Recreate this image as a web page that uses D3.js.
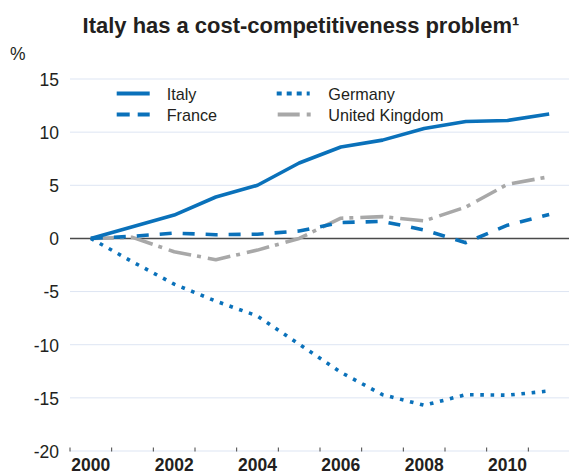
<!DOCTYPE html>
<html>
<head>
<meta charset="utf-8">
<script src="https://cdn.jsdelivr.net/npm/d3@7"></script>
<style>
  html, body { margin: 0; padding: 0; background: #fff; }
  svg { display: block; font-family: "Liberation Sans", Arial, Helvetica, sans-serif; }
</style>
</head>
<body>
<svg id="chart" width="569" height="473"></svg>
<script>
// Annual data, 2000 = 0, per cent
const years = [2000, 2001, 2002, 2003, 2004, 2005, 2006, 2007, 2008, 2009, 2010, 2011];
const italy   = [0, 1.1, 2.2, 3.9, 5.0, 7.1, 8.6, 9.25, 10.35, 11.0, 11.1, 11.7];
const france  = [0, 0.2, 0.5, 0.35, 0.4, 0.7, 1.5, 1.6, 0.8, -0.4, 1.25, 2.25];
const germany = [0, -2.2, -4.3, -5.9, -7.3, -9.95, -12.6, -14.7, -15.7, -14.7, -14.75, -14.35];
const uk      = [0, 0.1, -1.25, -2.0, -1.1, 0, 1.9, 2.05, 1.65, 2.95, 5.1, 5.8];

const seriesNames = ["Italy", "France", "Germany", "United Kingdom"];
const yTicks = [15, 10, 5, 0, -5, -10, -15, -20];
const xLabelYears = [2000, 2002, 2004, 2006, 2008, 2010];
const titleText = "Italy has a cost-competitiveness problem\u00B9";
const unitText = "%";

const BLUE = "#0a71ba";
const GREY = "#a8a8a8";
const INK = "#231f20";

const svg = d3.select("#chart");

const x = d3.scaleLinear().domain([2000, 2012]).range([70, 570]);
const y = d3.scaleLinear().domain([-20, 15]).range([451, 79]);

// Title, sized to span its measured width
const title = svg.append("text")
  .attr("x", 301).attr("y", 33)
  .attr("text-anchor", "middle")
  .attr("font-weight", "bold")
  .attr("font-size", 20)
  .attr("fill", INK)
  .text(titleText);
const tw = title.node().getComputedTextLength();
title.attr("font-size", 20 * 437 / tw);

svg.append("text")
  .attr("x", 10).attr("y", 60)
  .attr("font-size", 17.5)
  .attr("fill", INK)
  .text(unitText);

// Horizontal grid
const grid = svg.append("g");
grid.selectAll("line")
  .data(yTicks.filter(d => d !== 0))
  .join("line")
  .attr("x1", 70).attr("x2", 569)
  .attr("y1", d => y(d)).attr("y2", d => y(d))
  .attr("stroke", "#dde5f3")
  .attr("stroke-width", 1);

// Y axis labels (plain hyphen for negatives)
const yAxis = d3.axisLeft(y).tickValues(yTicks).tickSize(0).tickPadding(11)
  .tickFormat(d => String(d));
svg.append("g")
  .attr("transform", "translate(70,0)")
  .call(yAxis)
  .call(g => g.select(".domain").remove())
  .call(g => g.selectAll("text")
    .attr("font-size", 17.5)
    .attr("font-family", "Liberation Sans, Arial, sans-serif")
    .attr("fill", INK)
    .attr("dy", "0.36em"));

// X axis: year boundary ticks, labels at mid-year
const yearBounds = d3.range(2000, 2013);
svg.append("g").selectAll("line")
  .data(yearBounds)
  .join("line")
  .attr("x1", d => x(d)).attr("x2", d => x(d))
  .attr("y1", 447.5).attr("y2", 451.5)
  .attr("stroke", "#444")
  .attr("stroke-width", 1);

svg.append("g").selectAll("text")
  .data(xLabelYears)
  .join("text")
  .attr("x", d => x(d + 0.5))
  .attr("y", 470.5)
  .attr("text-anchor", "middle")
  .attr("font-size", 17.5)
  .attr("font-weight", "bold")
  .attr("fill", INK)
  .text(d => d);

// Zero line
svg.append("line")
  .attr("x1", 70).attr("x2", 569)
  .attr("y1", y(0)).attr("y2", y(0))
  .attr("stroke", "#4a4a4a")
  .attr("stroke-width", 1.6);

const line = d3.line()
  .x((d, i) => x(years[i] + 0.5))
  .y(d => y(d));

const styles = {
  "Italy":          { values: italy,   color: BLUE, dash: null,         legendDash: null },
  "France":         { values: france,  color: BLUE, dash: "12,11",      legendDash: "13,8,13" },
  "Germany":        { values: germany, color: BLUE, dash: "3.6,6.7",    legendDash: "5,5" },
  "United Kingdom": { values: uk,      color: GREY, dash: "23,6,4,7",   legendDash: "22,7,4" }
};

const drawOrder = ["United Kingdom", "Germany", "France", "Italy"];
svg.append("g").selectAll("path")
  .data(drawOrder)
  .join("path")
  .attr("d", n => line(styles[n].values))
  .attr("fill", "none")
  .attr("stroke", n => styles[n].color)
  .attr("stroke-width", 3.6)
  .attr("stroke-linejoin", "round")
  .attr("stroke-linecap", "butt")
  .attr("stroke-dasharray", n => styles[n].dash);

// Legend, two columns
const legendPos = {
  "Italy":          { sx: 116.7, tx: 166.7, cy: 93.5 },
  "France":         { sx: 116.7, tx: 166.7, cy: 114.5 },
  "Germany":        { sx: 276.7, tx: 328.3, cy: 93.5 },
  "United Kingdom": { sx: 277.7, tx: 328.3, cy: 114.5 }
};
const legend = svg.append("g");
seriesNames.forEach(n => {
  const p = legendPos[n], s = styles[n];
  legend.append("line")
    .attr("x1", p.sx).attr("x2", p.sx + (n === "United Kingdom" ? 34 : 33))
    .attr("y1", p.cy).attr("y2", p.cy)
    .attr("stroke", s.color)
    .attr("stroke-width", 4)
    .attr("stroke-dasharray", s.legendDash);
  legend.append("text")
    .attr("x", p.tx).attr("y", p.cy + 6)
    .attr("font-size", 16.2)
    .attr("fill", INK)
    .text(n);
});
</script>
</body>
</html>
